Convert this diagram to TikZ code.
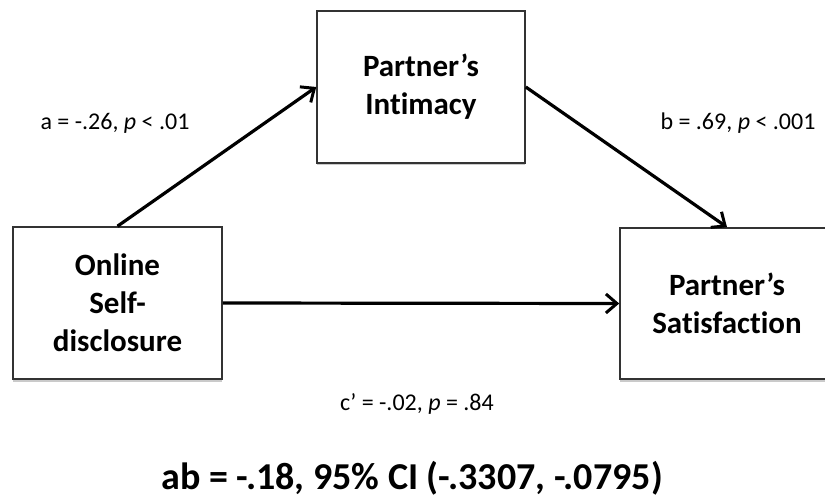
\documentclass[tikz,border=0pt]{standalone}
\usepackage{fontspec}
\setmainfont[Ligatures={NoCommon}]{Carlito}
\usetikzlibrary{arrows.meta,shadows}
\begin{document}
\begin{tikzpicture}[x=1pt,y=-1pt,
  box/.style={draw=black!80,line width=1.6pt,fill=white,rectangle,align=center,
    font=\fontsize{31}{38}\selectfont\bfseries,
    drop shadow={shadow xshift=0pt,shadow yshift=-2.5pt,opacity=0.35,fill=black!60}},
  arr/.style={line width=3.2pt,-{Straight Barb[length=11pt,width=19pt,line width=3pt]}},
  lab/.style={font=\fontsize{24}{28}\selectfont,anchor=base}]
\useasboundingbox (0,0) rectangle (825,500);
\begin{scope}
\clip (0,0) rectangle (825,500);
\node[box,minimum width=208pt,minimum height=152pt] (T) at (421,87) {Partner’s\\Intimacy};
\node[box,minimum width=209pt,minimum height=152pt] (L) at (117.5,303) {Online\\Self-\\disclosure};
\node[box,minimum width=214pt,minimum height=151pt] (R) at (727,303.5) {Partner’s\\Satisfaction};
\end{scope}
\draw[arr] (L.north) -- (T.west);
\draw[arr] (T.east) -- (R.north);
\draw[arr] (L.east) -- (R.west);
\node[lab] (la) at (115,130) {a = -.26, \textit{p} < .01};
\node[lab] (lb) at (738,130) {b = .69, \textit{p} < .001};
\node[lab] (lc) at (417,410) {c’ = -.02, \textit{p} = .84};
\node[font=\fontsize{38}{44}\selectfont\bfseries,anchor=base] (ab) at (412,489) {ab = -.18, 95\% CI (-.3307, -.0795)};
\end{tikzpicture}
\end{document}
